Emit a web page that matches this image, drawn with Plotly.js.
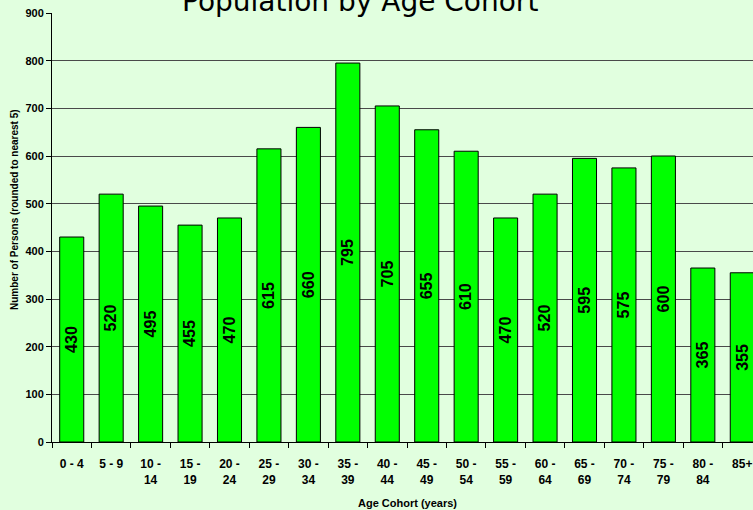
<!DOCTYPE html>
<html>
<head>
<meta charset="utf-8">
<script src="https://cdn.plot.ly/plotly-3.0.1.min.js"></script>
<style>
html,body{margin:0;padding:0;overflow:hidden;background:#e1ffdf;width:753px;height:510px;}
#chart{width:762px;height:510px;}
</style>
</head>
<body>
<div id="chart"></div>
<script>
const categories = ["0 - 4","5 - 9","10 -<br>14","15 -<br>19","20 -<br>24","25 -<br>29","30 -<br>34","35 -<br>39","40 -<br>44","45 -<br>49","50 -<br>54","55 -<br>59","60 -<br>64","65 -<br>69","70 -<br>74","75 -<br>79","80 -<br>84","85+"];
const persons = [430,520,495,455,470,615,660,795,705,655,610,470,520,595,575,600,365,355];
const yTicks = [0,100,200,300,400,500,600,700,800,900];
const chartTitle = 'Population by Age Cohort';

const narrow = "Liberation Sans Narrow, Arial Narrow, Liberation Sans, Arial, sans-serif";
const sans = "Liberation Sans, Arial, sans-serif";

const trace = {
  type: 'bar',
  x: categories,
  y: persons,
  text: persons.map(String),
  textposition: 'inside',
  insidetextanchor: 'middle',
  textangle: -90,
  textfont: {family: sans, size: 17, color: '#000', weight: 'bold'},
  marker: {color: '#00ff00', line: {color: '#000', width: 1}},
  hoverinfo: 'x+y'
};

const layout = {
  width: 762, height: 510,
  margin: {l: 52, r: 0, t: 13, b: 68},
  paper_bgcolor: '#e1ffdf',
  plot_bgcolor: '#e1ffdf',
  bargap: 0.39,
  showlegend: false,
  xaxis: {
    type: 'category',
    range: [-0.5, 17.5],
    tickson: 'boundaries',
    ticks: 'outside', ticklen: 5, tickcolor: '#000', tickwidth: 1,
    ticklabelstandoff: 11,
    showline: true, linecolor: '#000', linewidth: 1,
    showgrid: false,
    tickfont: {family: narrow, size: 12, color: '#000', weight: 'bold'},
    tickangle: 0
  },
  yaxis: {
    range: [0, 900],
    tickvals: yTicks,
    ticktext: yTicks.map(String),
    ticks: 'outside', ticklen: 5, tickcolor: '#000', tickwidth: 1,
    showline: true, linecolor: '#000', linewidth: 1,
    showgrid: true, gridcolor: '#4a4a4a', gridwidth: 1,
    zeroline: false,
    tickfont: {family: sans, size: 11, color: '#000', weight: 'bold'}
  },
  annotations: [
    {text: chartTitle, xref: 'paper', yref: 'paper',
     x: (360-52)/710, y: (442-1)/429, showarrow: false,
     xanchor: 'center', yanchor: 'middle',
     font: {family: 'DejaVu Sans, Verdana, sans-serif', size: 28, color: '#000'}},
    {text: 'Number of Persons (rounded to nearest 5)', xref: 'paper', yref: 'paper',
     x: (14-52)/710, y: (442-210)/429, textangle: -90, showarrow: false,
     xanchor: 'center', yanchor: 'middle',
     font: {family: sans, size: 10, color: '#000', weight: 'bold'}},
    {text: 'Age Cohort (years)', xref: 'paper', yref: 'paper',
     x: (407-52)/710, y: -(503-442)/429, showarrow: false,
     xanchor: 'center', yanchor: 'middle',
     font: {family: sans, size: 11, color: '#000', weight: 'bold'}}
  ]
};

Plotly.newPlot('chart', [trace], layout, {displayModeBar: false, staticPlot: true});
</script>
</body>
</html>
